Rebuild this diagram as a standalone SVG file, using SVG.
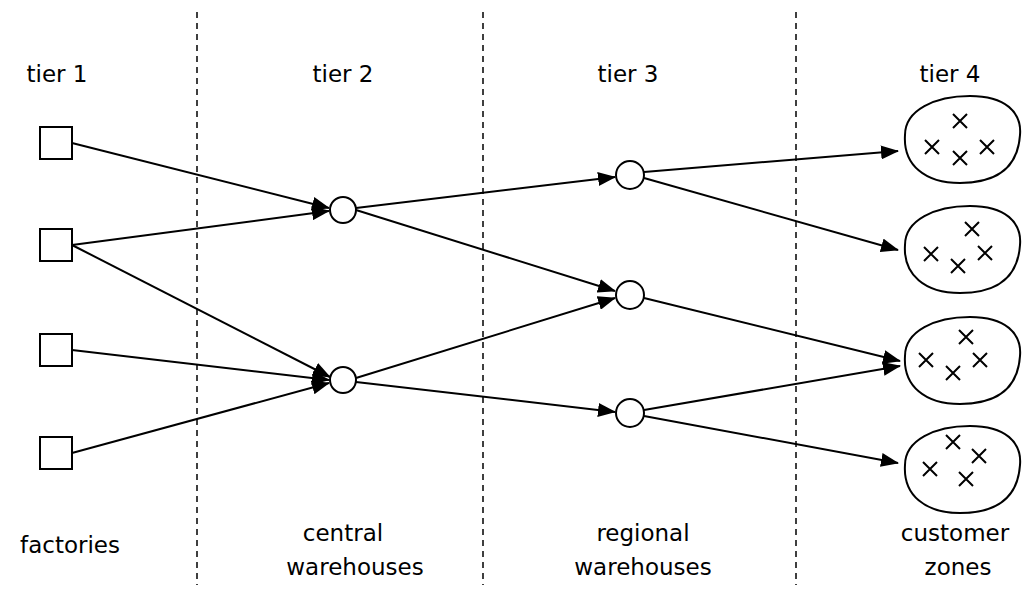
<svg xmlns="http://www.w3.org/2000/svg" width="1024" height="589" viewBox="0 0 1024 589">
<style>
.t{font-family:"DejaVu Sans",sans-serif;font-size:23px;text-anchor:middle;fill:#000}
.n{fill:#fff;stroke:#000;stroke-width:2}
.x{stroke:#000;stroke-width:2;fill:none}
.e{stroke:#000;stroke-width:2;fill:none;marker-end:url(#a)}
.d{stroke:#000;stroke-width:1.5;stroke-dasharray:6,5}
</style>
<defs>
<marker id="a" markerWidth="18" markerHeight="14" refX="17" refY="7" orient="auto" markerUnits="userSpaceOnUse" viewBox="0 0 18 14"><path d="M0,0L18,7L0,14Z"/></marker>
<path id="blob" d="M905,135 C905,110 935,96 970,96 C1005,96 1022,112 1020,135 C1018,165 1000,183 960,183 C925,183 903,165 905,135 Z"/>
<path id="cr" d="M-7,-7L7,7M7,-7L-7,7"/>
</defs>
<g id="dividers">
<line class="d" x1="197" y1="12" x2="197" y2="585"/>
<line class="d" x1="483" y1="12" x2="483" y2="585"/>
<line class="d" x1="796" y1="12" x2="796" y2="585"/>
</g>
<g id="labels">
<text class="t" x="57" y="82">tier 1</text>
<text class="t" x="343" y="82">tier 2</text>
<text class="t" x="628" y="82">tier 3</text>
<text class="t" x="950" y="82">tier 4</text>
<text class="t" x="70" y="553">factories</text>
<text class="t" x="343" y="541">central</text>
<text class="t" x="355" y="575">warehouses</text>
<text class="t" x="643" y="541">regional</text>
<text class="t" x="643" y="575">warehouses</text>
<text class="t" x="955" y="541">customer</text>
<text class="t" x="958" y="575">zones</text>
</g>
<g id="connectors">
<line class="e" x1="72" y1="143" x2="329" y2="208"/>
<line class="e" x1="72" y1="245" x2="329" y2="211"/>
<line class="e" x1="72" y1="245" x2="330" y2="377"/>
<line class="e" x1="72" y1="350" x2="329" y2="380"/>
<line class="e" x1="72" y1="453" x2="329" y2="383"/>
<line class="e" x1="356" y1="208" x2="615" y2="177"/>
<line class="e" x1="356" y1="210" x2="615" y2="291"/>
<line class="e" x1="356" y1="378" x2="615" y2="298"/>
<line class="e" x1="356" y1="382" x2="615" y2="412"/>
<line class="e" x1="644" y1="172" x2="898" y2="151"/>
<line class="e" x1="644" y1="178" x2="898" y2="250"/>
<line class="e" x1="644" y1="298" x2="900" y2="361"/>
<line class="e" x1="644" y1="410" x2="900" y2="366"/>
<line class="e" x1="644" y1="416" x2="898" y2="463"/>
</g>
<g id="f1"><rect class="n" x="40" y="127" width="32" height="32"/></g>
<g id="f2"><rect class="n" x="40" y="229" width="32" height="32"/></g>
<g id="f3"><rect class="n" x="40" y="334" width="32" height="32"/></g>
<g id="f4"><rect class="n" x="40" y="437" width="32" height="32"/></g>
<g id="c1"><circle class="n" cx="343" cy="210" r="13"/></g>
<g id="c2"><circle class="n" cx="343" cy="380" r="13"/></g>
<g id="r1"><circle class="n" cx="630" cy="175" r="14"/></g>
<g id="r2"><circle class="n" cx="630" cy="295" r="14"/></g>
<g id="r3"><circle class="n" cx="630" cy="413" r="14"/></g>
<g id="z1"><use href="#blob" class="n"/>
<use href="#cr" class="x" x="960" y="121"/><use href="#cr" class="x" x="932" y="147"/><use href="#cr" class="x" x="960" y="158"/><use href="#cr" class="x" x="987" y="147"/></g>
<g id="z2"><use href="#blob" class="n" y="110"/>
<use href="#cr" class="x" x="972" y="229"/><use href="#cr" class="x" x="931" y="254"/><use href="#cr" class="x" x="958" y="266"/><use href="#cr" class="x" x="985" y="253"/></g>
<g id="z3"><use href="#blob" class="n" y="221"/>
<use href="#cr" class="x" x="966" y="337"/><use href="#cr" class="x" x="926" y="360"/><use href="#cr" class="x" x="953" y="373"/><use href="#cr" class="x" x="980" y="360"/></g>
<g id="z4"><use href="#blob" class="n" y="330"/>
<use href="#cr" class="x" x="953" y="442"/><use href="#cr" class="x" x="979" y="456"/><use href="#cr" class="x" x="930" y="469"/><use href="#cr" class="x" x="966" y="479"/></g>
</svg>
